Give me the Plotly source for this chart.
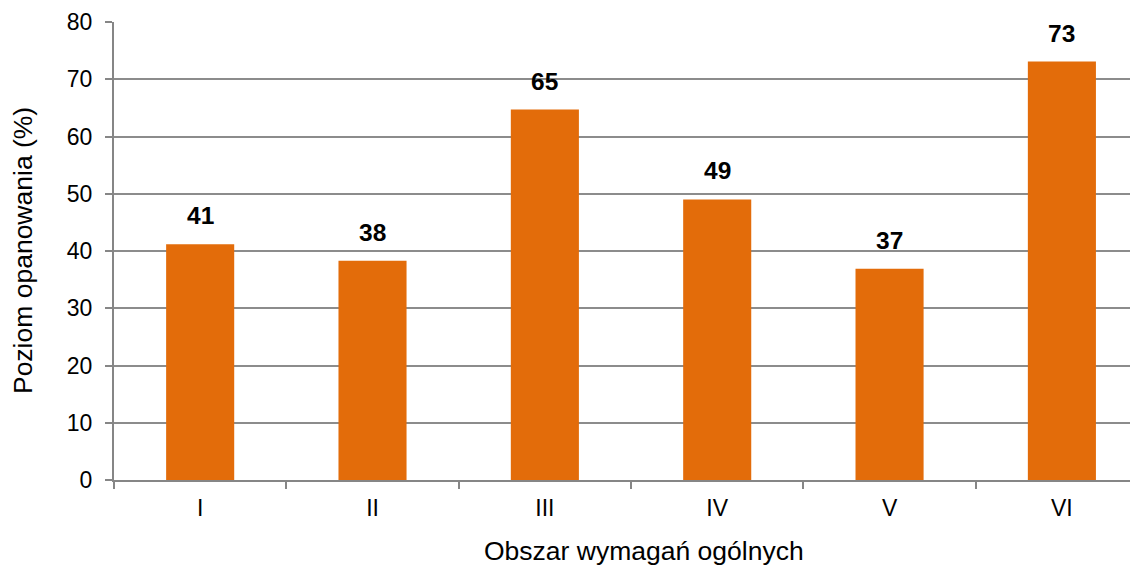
import plotly.graph_objects as go

categories = ["I", "II", "III", "IV", "V", "VI"]
values = [41.2, 38.3, 64.7, 49.0, 36.9, 73.1]
labels = ["41", "38", "65", "49", "37", "73"]
y_ticks = [0, 10, 20, 30, 40, 50, 60, 70, 80]
x_title = "Obszar wymagań ogólnych"
y_title = "Poziom opanowania (%)"

FONT = "Liberation Sans, Arial, sans-serif"

fig = go.Figure()
fig.add_trace(go.Bar(
    x=categories, y=values, width=0.395,
    marker=dict(color="#E36C0A", line=dict(width=0)),
    hoverinfo="x+y",
))
for c, v, t in zip(categories, values, labels):
    fig.add_annotation(x=c, y=v, text="<b>" + t + "</b>", showarrow=False,
                       yanchor="bottom", yshift=13,
                       font=dict(family=FONT, size=24.5, color="#000000"))

fig.add_annotation(xref="paper", yref="paper", x=0.5186, y=-0.155,
                   xanchor="center", yanchor="middle", showarrow=False,
                   text=x_title, font=dict(family=FONT, size=26.5, color="#000000"))
fig.add_annotation(xref="paper", yref="paper", x=-0.089, y=0.5,
                   xanchor="center", yanchor="middle", showarrow=False, textangle=-90,
                   text=y_title, font=dict(family=FONT, size=26.5, color="#000000"))

fig.update_layout(
    width=1130, height=559,
    margin=dict(l=106, r=2, t=14, b=87),
    plot_bgcolor="white", paper_bgcolor="white",
    showlegend=False,
    font=dict(family=FONT, size=23, color="#000000"),
    xaxis=dict(
        range=[-0.5, 5.43],
        showline=True, linecolor="#868686", linewidth=2,
        ticks="outside", tickson="boundaries", ticklen=7, tickcolor="#868686", tickwidth=2,
        showgrid=False,
        tickfont=dict(size=23),
        ticklabelstandoff=6,
        automargin=False,
    ),
    yaxis=dict(
        range=[0, 80], tickvals=y_ticks,
        showline=True, linecolor="#868686", linewidth=2,
        ticks="outside", ticklen=7, tickcolor="#868686", tickwidth=2,
        showgrid=True, gridcolor="#8c8c8c", gridwidth=2,
        zeroline=False,
        tickfont=dict(size=23),
        ticklabelstandoff=8,
        automargin=False,
    ),
)
fig.write_html("out.html")
